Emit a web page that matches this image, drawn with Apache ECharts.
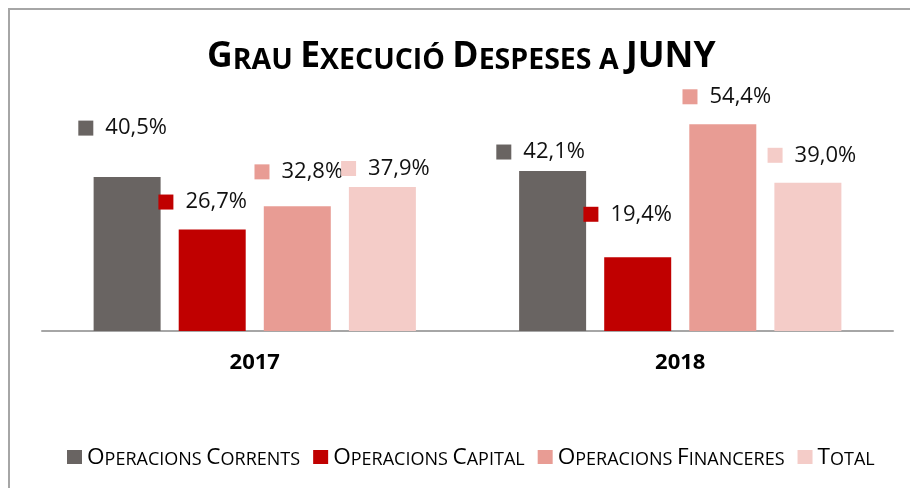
<!DOCTYPE html>
<html>
<head>
<meta charset="utf-8">
<script src="https://cdn.jsdelivr.net/npm/echarts@6/dist/echarts.min.js"></script>
<style>
  html, body { margin: 0; padding: 0; background: #fff; }
  #chart { width: 910px; height: 488px; }
</style>
</head>
<body>
<div id="chart"></div>
<script>
// data
const years = ["2017", "2018"];
const seriesNames = ["Operacions Corrents", "Operacions Capital", "Operacions Financeres", "Total"];
const corrents = [40.5, 42.1];
const capital = [26.7, 19.4];
const financeres = [32.8, 54.4];
const total = [37.9, 39.0];

const colors = ["#696462", "#c00000", "#e89c94", "#f4ccc8"];
// hand placed labels (like the excel original), [dx, dy] per point
const labelOffsets = [
  [[-4.5, -38], [-12, -8]],
  [[-9.5, -16.5], [-10, -32]],
  [[1.5, -23.5], [4, -16.5]],
  [[3, -7.5], [4, -16.5]]
];

const fontFam = "Open Sans";

// small caps: first letter of each word big, rest smaller
function smallCaps(txt) {
  return txt.split(" ").map(w => {
    if (w === w.toUpperCase() && w.length > 1) return "{b|" + w + "}";
    const first = w.charAt(0);
    const rest = w.slice(1).toUpperCase();
    if (first === first.toLowerCase()) return "{s|" + w.toUpperCase() + "}";
    return "{b|" + first + "}" + (rest ? "{s|" + rest + "}" : "");
  }).join("{s| }");
}

function fmt(v) {
  return v.toFixed(1).replace(".", ",") + "%";
}

const chart = echarts.init(document.getElementById("chart"));
const allData = [corrents, capital, financeres, total];

const series = allData.map((vals, s) => ({
  name: seriesNames[s],
  type: "bar",
  barWidth: 67,
  barGap: "27%",
  itemStyle: { color: colors[s] },
  data: vals.map((v, i) => ({ value: v, label: { offset: labelOffsets[s][i] } })),
  label: {
    show: true,
    position: "top",
    distance: 0,
    formatter: p => "{k|}{v|" + fmt(p.value) + "}",
    rich: {
      k: { width: 15, height: 15, backgroundColor: colors[s] },
      v: { fontFamily: fontFam, fontSize: 22, lineHeight: 22, color: "#111", padding: [0, 0, 0, 12] }
    }
  }
}));

chart.setOption({
  animation: false,
  title: {
    text: smallCaps("Grau Execució Despeses a JUNY"),
    left: 202,
    top: 30,
    textStyle: {
      rich: {
        b: { fontFamily: fontFam, fontWeight: "bold", fontSize: 35.5, color: "#000", verticalAlign: "bottom", lineHeight: 40 },
        s: { fontFamily: fontFam, fontWeight: "bold", fontSize: 28.5, color: "#000", verticalAlign: "bottom", lineHeight: 40 }
      }
    }
  },
  graphic: [{
    type: "rect",
    shape: { x: 9, y: 9, width: 1000, height: 1000 },
    style: { fill: "none", stroke: "#a6a6a6", lineWidth: 2 },
    silent: true
  }],
  grid: { left: 42, right: 17, top: 103, bottom: 157 },
  xAxis: {
    type: "category",
    data: years,
    axisTick: { show: false },
    axisLine: { lineStyle: { color: "#a6a6a6", width: 2 } },
    axisLabel: { fontFamily: fontFam, fontWeight: "bold", fontSize: 22, color: "#000", margin: 21 }
  },
  yAxis: {
    type: "value",
    min: 0,
    max: 60,
    show: false
  },
  legend: {
    data: seriesNames,
    left: 62,
    top: 441,
    icon: "rect",
    itemWidth: 15,
    itemHeight: 14,
    itemGap: 13,
    formatter: name => smallCaps(name),
    textStyle: {
      rich: {
        b: { fontFamily: fontFam, fontSize: 22.6, color: "#000", verticalAlign: "bottom", lineHeight: 24 },
        s: { fontFamily: fontFam, fontSize: 18, color: "#000", verticalAlign: "bottom", lineHeight: 24 }
      }
    }
  },
  series: series
});
</script>
</body>
</html>
